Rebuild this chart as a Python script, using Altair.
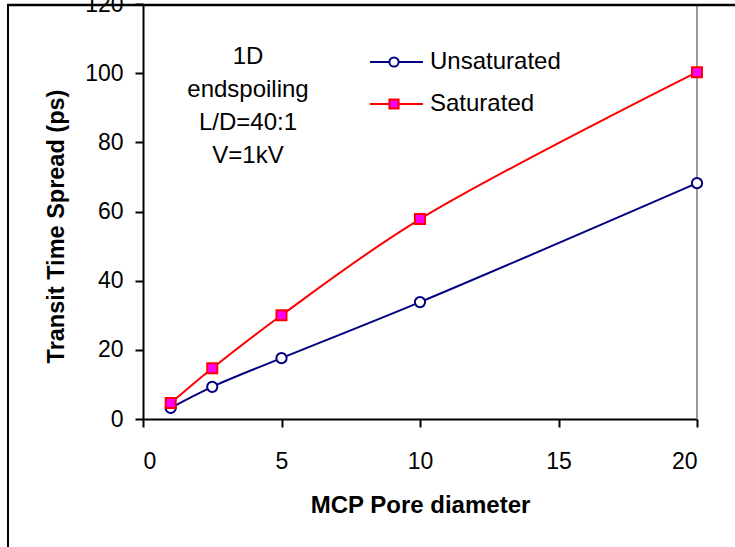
import altair as alt
import pandas as pd

pore = [1, 2.5, 5, 10, 20]
unsaturated = [3.2, 9.3, 17.6, 33.8, 68.2]
saturated = [4.6, 14.7, 30.0, 57.8, 100.3]
series_names = ["Unsaturated", "Saturated"]
annotation = ["1D", "endspoiling", "L/D=40:1", "V=1kV"]

df = pd.DataFrame({
    "pore": pore * 2,
    "tts": unsaturated + saturated,
    "series": [series_names[0]] * len(pore) + [series_names[1]] * len(pore),
})
one = pd.DataFrame({"k": [0]})

FONT = "Liberation Sans"
NAVY = "#000080"
RED = "#FF0000"
MAG = "#FF00FF"

xenc = alt.X("pore:Q", scale=alt.Scale(domain=[0, 20], nice=False, zero=True),
             axis=alt.Axis(values=[0, 5, 10, 15, 20], title="MCP Pore diameter",
                           grid=False, tickSize=8, tickWidth=2, tickColor="black",
                           domainColor="black", domainWidth=2,
                           labelFont=FONT, labelFontSize=23, labelColor="black",
                           labelPadding=23, titleFont=FONT, titleFontSize=24,
                           titleFontWeight="bold", titleColor="black", titlePadding=20))
yenc = alt.Y("tts:Q", scale=alt.Scale(domain=[0, 120], nice=False),
             axis=alt.Axis(values=[0, 20, 40, 60, 80, 100, 120],
                           title="Transit Time Spread (ps)",
                           grid=False, tickSize=8, tickWidth=2, tickColor="black",
                           domainColor="black", domainWidth=2,
                           labelFont=FONT, labelFontSize=23, labelColor="black",
                           labelPadding=12, titleFont=FONT, titleFontSize=23.5,
                           titleFontWeight="bold", titleColor="black",
                           titlePadding=16, titleY=222))

base = alt.Chart(df)
deco = alt.Chart(one)

unsat = base.transform_filter(alt.datum.series == "Unsaturated")
sat = base.transform_filter(alt.datum.series == "Saturated")

unsat_line = unsat.mark_line(color=NAVY, strokeWidth=2, interpolate="catmull-rom").encode(x=xenc, y=yenc)
sat_line = sat.mark_line(color=RED, strokeWidth=2, interpolate="catmull-rom").encode(x="pore:Q", y="tts:Q")
unsat_pts = unsat.mark_point(shape="circle", filled=True, fill="white", stroke=NAVY,
                             strokeWidth=2, size=105, opacity=1).encode(x="pore:Q", y="tts:Q")
sat_pts = sat.mark_point(shape="square", filled=True, fill=MAG, stroke=RED,
                         strokeWidth=2, size=100, opacity=1).encode(x="pore:Q", y="tts:Q")

right_line = deco.mark_rule(color="#999999", strokeWidth=2).encode(
    x=alt.datum(20), y=alt.value(0), y2=alt.value(415))

# outer frame (left and top edges)
frame_left = deco.mark_rule(color="black", strokeWidth=2).encode(
    x=alt.value(-135), y=alt.value(1), y2=alt.value(600))
frame_top = deco.mark_rule(color="black", strokeWidth=2.5).encode(
    x=alt.value(-136), x2=alt.value(700), y=alt.value(1))

note = deco.mark_text(font=FONT, fontSize=24, align="center", baseline="middle",
                      lineHeight=33, color="black").encode(
    x=alt.value(105), y=alt.value(53), text=alt.value(annotation))


def legend_entry(label, ypix, color, shape, fill):
    seg = deco.mark_rule(color=color, strokeWidth=2).encode(
        x=alt.value(227), x2=alt.value(280), y=alt.value(ypix))
    sym = deco.mark_point(shape=shape, filled=True, fill=fill, stroke=color,
                          strokeWidth=2, size=85, opacity=1).encode(
        x=alt.value(251), y=alt.value(ypix))
    txt = deco.mark_text(font=FONT, fontSize=24, align="left", baseline="middle",
                         color="black").encode(
        x=alt.value(287), y=alt.value(ypix), text=alt.value(label))
    return [seg, sym, txt]


legend_layers = (legend_entry("Unsaturated", 58, NAVY, "circle", "white")
                 + legend_entry("Saturated", 100, RED, "square", MAG))

chart = alt.layer(
    unsat_line, sat_line, right_line, unsat_pts, sat_pts, note,
    *legend_layers, frame_left, frame_top
).properties(
    width=554, height=415,
    padding={"left": 143, "top": 4, "right": 38, "bottom": 128},
    autosize=alt.AutoSizeParams(type="none"),
    background="white",
).configure_view(stroke=None)

chart.save("out.html", embed_options={"renderer": "svg", "actions": False})
